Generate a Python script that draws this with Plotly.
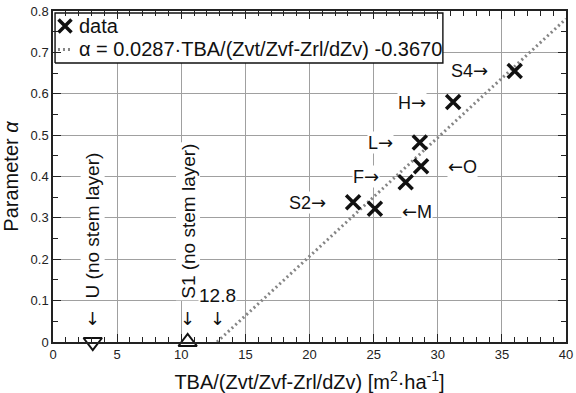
import plotly.graph_objects as go

# Stands with a stem layer: TBA/(Zvt/Zvf-Zrl/dZv) and fitted parameter alpha
stands = ["S4", "H", "L", "O", "F", "S2", "M"]
tba = [36.0, 31.2, 28.6, 28.7, 27.5, 23.4, 25.1]
alpha = [0.655, 0.580, 0.482, 0.425, 0.386, 0.338, 0.322]
label_side = ["left", "left", "left", "right", "left", "left", "right"]
label_lift = [0, 0, 0, 0, 6, 0, -3]

# Stands without a stem layer (alpha = 0)
bare_stands = ["U", "S1"]
bare_tba = [3.1, 10.5]
bare_alpha = [0.0, 0.0]
bare_symbols = ["triangle-down-open", "triangle-up-open"]

# Linear fit alpha = slope * TBA/(...) + intercept
slope = 0.0287
intercept = -0.3670
x_max = 40
x_cross = -intercept / slope

x_ticks = [0, 5, 10, 15, 20, 25, 30, 35, 40]
y_ticks = [0, 0.1, 0.2, 0.3, 0.4, 0.5, 0.6, 0.7, 0.8]

FONT = "Liberation Sans, Arial, Helvetica, sans-serif"
ARROW_FONT = "DejaVu Sans"
INK = "#111111"
FIT_COLOR = "#858585"


def arrow(ch):
    return f'<span style="font-family:{ARROW_FONT}">{ch}</span>'


fig = go.Figure()

# fitted line
fit_x = [x_cross, x_max]
fit_y = [slope * v + intercept for v in fit_x]
fig.add_trace(go.Scatter(
    x=fit_x, y=fit_y, mode="lines",
    line=dict(color=FIT_COLOR, width=3, dash="2px,3px"),
    showlegend=False, hoverinfo="skip",
))

# stands with stem layer
fig.add_trace(go.Scatter(
    x=tba, y=alpha, mode="markers", text=stands,
    marker=dict(symbol="x-thin", size=14, line=dict(color=INK, width=3.5)),
    showlegend=False,
))

# stands without stem layer
fig.add_trace(go.Scatter(
    x=bare_tba, y=bare_alpha, mode="markers", text=bare_stands,
    marker=dict(symbol=bare_symbols, size=16, color=INK,
                line=dict(color=INK, width=2)),
    cliponaxis=False, showlegend=False,
))

# ---- legend box drawn on an overlay axis spanning the plot area [0, 1] ----
box_l, box_r, box_b, box_t = 0.004, 0.760, 0.843, 0.994
fig.add_trace(go.Scatter(
    x=[box_l, box_r, box_r, box_l, box_l],
    y=[box_b, box_b, box_t, box_t, box_b],
    mode="lines", fill="toself", fillcolor="white",
    line=dict(color=INK, width=1.4),
    xaxis="x2", yaxis="y2", showlegend=False, hoverinfo="skip",
))
fig.add_trace(go.Scatter(
    x=[0.0234], y=[0.955], mode="markers",
    marker=dict(symbol="x-thin", size=13, line=dict(color=INK, width=3.5)),
    xaxis="x2", yaxis="y2", showlegend=False, hoverinfo="skip",
))
fig.add_trace(go.Scatter(
    x=[0.0097, 0.037], y=[0.884, 0.884], mode="lines",
    line=dict(color=FIT_COLOR, width=3, dash="2px,3px"),
    xaxis="x2", yaxis="y2", showlegend=False, hoverinfo="skip",
))

legend_text = f"α = {slope:.4f}·TBA/(Zvt/Zvf-Zrl/dZv) {intercept:.4f}"
annotations = [
    dict(xref="paper", yref="paper", x=0.0468, y=0.955, text="data",
         xanchor="left", yanchor="middle", showarrow=False,
         font=dict(size=20, color=INK)),
    dict(xref="paper", yref="paper", x=0.0468, y=0.884, text=legend_text,
         xanchor="left", yanchor="middle", showarrow=False,
         font=dict(size=20, color=INK)),
]

# stand labels with arrows pointing at their markers
for name, xv, yv, side, lift in zip(stands, tba, alpha, label_side, label_lift):
    if side == "left":
        txt, anchor, shift = f"{name}{arrow('→')}", "right", -26
    else:
        txt, anchor, shift = f"{arrow('←')}{name}", "left", 26
    annotations.append(dict(
        x=xv, y=yv, text=txt, xanchor=anchor, yanchor="middle",
        xshift=shift, yshift=lift, showarrow=False, bgcolor="white",
        borderpad=0, font=dict(size=18, color=INK)))

# vertical labels for stands without stem layer
for name, xv in zip(bare_stands, bare_tba):
    annotations.append(dict(
        x=xv, y=0.1, text=f"{name} (no stem layer)", textangle=-90,
        xanchor="center", yanchor="bottom", showarrow=False,
        bgcolor="white", borderpad=1, font=dict(size=19, color=INK)))
    annotations.append(dict(
        x=xv, y=0.058, text=arrow("↓"), xanchor="center", yanchor="middle",
        showarrow=False, font=dict(size=18, color=INK)))

# x-intercept of the fit
annotations.append(dict(
    x=x_cross, y=0.113, text=f"{x_cross:.1f}", xanchor="center",
    yanchor="middle", showarrow=False, bgcolor="white", borderpad=0,
    font=dict(size=19, color=INK)))
annotations.append(dict(
    x=x_cross, y=0.058, text=arrow("↓"), xanchor="center", yanchor="middle",
    showarrow=False, font=dict(size=18, color=INK)))

axis_common = dict(
    automargin=False,
    showgrid=True, gridcolor="#a0a0a0", gridwidth=1,
    zeroline=False, showline=True, linecolor="#222222", linewidth=1.5,
    mirror="allticks", ticks="inside", ticklen=8, tickwidth=1.2,
    tickcolor="#222222", tickfont=dict(size=13, color="#222222"),
)

fig.update_layout(
    width=576, height=393,
    margin=dict(l=53, r=10, t=11, b=51),
    paper_bgcolor="white", plot_bgcolor="white",
    font=dict(family=FONT, color=INK),
    showlegend=False,
    annotations=annotations,
    xaxis=dict(
        range=[0, x_max], tickvals=x_ticks,
        minor=dict(dtick=1, ticks="inside", ticklen=5, tickcolor="#222222",
                   showgrid=False),
        title=dict(text="TBA/(Zvt/Zvf-Zrl/dZv) [m<sup>2</sup>·ha<sup>-1</sup>]",
                   font=dict(size=20, color=INK)),
        **axis_common,
    ),
    yaxis=dict(
        range=[0, 0.8], tickvals=y_ticks,
        minor=dict(dtick=0.05, ticks="inside", ticklen=5, tickcolor="#222222",
                   showgrid=False),
        title=dict(text="Parameter <i>α</i>", font=dict(size=20, color=INK)),
        **axis_common,
    ),
    xaxis2=dict(overlaying="x", range=[0, 1], visible=False, fixedrange=True),
    yaxis2=dict(overlaying="y", range=[0, 1], visible=False, fixedrange=True),
)

fig.write_html("out.html")
